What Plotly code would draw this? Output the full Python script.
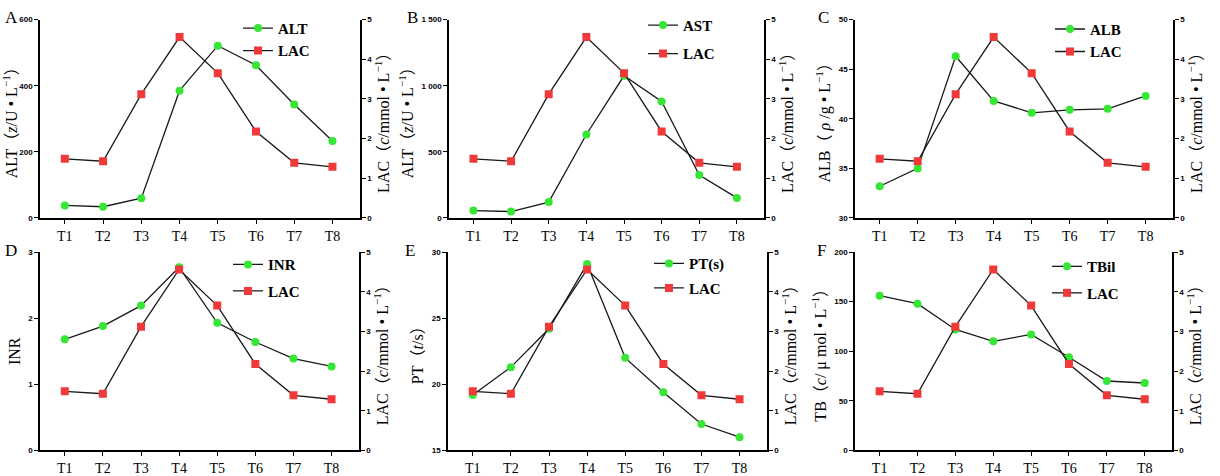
import plotly.graph_objects as go

# time points
times = ["T1", "T2", "T3", "T4", "T5", "T6", "T7", "T8"]

# lactate, same series in every panel (mmol/L)
lac = [1.49, 1.43, 3.12, 4.56, 3.65, 2.18, 1.39, 1.29]

alt = [38, 34, 60, 385, 521, 462, 343, 233]
ast = [56, 49, 120, 631, 1075, 881, 325, 152]
alb = [33.2, 35.0, 46.3, 41.8, 40.6, 40.9, 41.0, 42.3]
inr = [1.68, 1.88, 2.19, 2.77, 1.93, 1.64, 1.39, 1.27]
pt = [19.2, 21.3, 24.2, 29.1, 22.0, 19.4, 17.0, 16.0]
tbil = [156, 148, 122, 110, 117, 94, 70, 68]

panels = [
    ("A", "ALT", alt, "ALT（<i>z</i>/U • L<sup>−1</sup>）", [0, 600], [0, 200, 400, 600], ["0", "200", "400", "600"]),
    ("B", "AST", ast, "ALT（<i>z</i>/U • L<sup>−1</sup>）", [0, 1500], [0, 500, 1000, 1500], ["0", "500", "1 000", "1 500"]),
    ("C", "ALB", alb, "ALB（ <i>ρ</i> /g • L<sup>−1</sup>）", [30, 50], [30, 35, 40, 45, 50], ["30", "35", "40", "45", "50"]),
    ("D", "INR", inr, "INR", [0, 3], [0, 1, 2, 3], ["0", "1", "2", "3"]),
    ("E", "PT(s)", pt, "PT（<i>t</i>/s）", [15, 30], [15, 20, 25, 30], ["15", "20", "25", "30"]),
    ("F", "TBil", tbil, "TB（<i>c</i>/ μ mol • L<sup>−1</sup>）", [0, 200], [0, 50, 100, 150, 200], ["0", "50", "100", "150", "200"]),
]

W, H = 1220, 476
xdoms = [(40, 360), (449, 764), (855, 1173), (40, 359), (448, 767), (855, 1172)]
ydoms = [(16, 220), (16, 220), (16, 220), (255, 459), (255, 459), (255, 459)]
leg_dx = [198, 194, 195, 188, 201, 192]
leg_dy = [-8, -11, -7, -4, -5, -2]
leg_gap = [0, 6, 0, 4, 2, 4]
letter_dx = [37, 44, 39, 37, 45, 40]

SERIF = "Liberation Serif, Noto Sans CJK SC"
green = "#35e635"
red = "#f03a3a"

fig = go.Figure()
layout = {}
annotations = []

for i, (letter, name, vals, ytitle, yrange, yticks, ytext) in enumerate(panels):
    xa = "x" if i == 0 else f"x{i + 1}"
    yl = f"y{2 * i + 1}" if i > 0 else "y"
    yr = f"y{2 * i + 2}"
    leg = "legend" if i == 0 else f"legend{i + 1}"

    fig.add_trace(go.Scatter(
        x=times, y=vals, name=name, mode="lines+markers",
        line=dict(color="#1a1a1a", width=1.3),
        marker=dict(symbol="circle", size=8, color=green),
        xaxis=xa, yaxis=yl, legend=leg, legendgroup=f"g{i}a",
    ))
    fig.add_trace(go.Scatter(
        x=times, y=lac, name="LAC", mode="lines+markers",
        line=dict(color="#1a1a1a", width=1.3),
        marker=dict(symbol="square", size=8, color=red),
        xaxis=xa, yaxis=yr, legend=leg, legendgroup=f"g{i}b",
    ))

    x0, x1 = xdoms[i]
    y0, y1 = ydoms[i]
    xd = [x0 / W, x1 / W]
    yd = [1 - y1 / H, 1 - y0 / H]

    layout["xaxis" if i == 0 else f"xaxis{i + 1}"] = dict(
        domain=xd, anchor=yl, type="category", range=[-0.65, 7.72],
        showline=True, linecolor="black", linewidth=1.5,
        ticks="outside", ticklen=4, tickwidth=1.2, tickcolor="black",
        tickfont=dict(family=SERIF, size=14, color="black"),
        showgrid=False, zeroline=False,
    )
    layout["yaxis" if i == 0 else f"yaxis{2 * i + 1}"] = dict(
        domain=yd, anchor=xa, range=yrange,
        tickvals=yticks, ticktext=ytext,
        showline=True, linecolor="black", linewidth=1.5,
        ticks="outside", ticklen=4, tickwidth=1.2, tickcolor="black",
        tickfont=dict(family="Liberation Sans", size=8, color="black", weight="bold"),
        title=dict(text=ytitle, font=dict(family=SERIF, size=16, color="black"), standoff=4),
        showgrid=False, zeroline=False,
    )
    layout[f"yaxis{2 * i + 2}"] = dict(
        anchor=xa, overlaying=yl, side="right", range=[0, 5],
        tickvals=[0, 1, 2, 3, 4, 5],
        showline=True, linecolor="black", linewidth=1.5,
        ticks="outside", ticklen=4, tickwidth=1.2, tickcolor="black",
        tickfont=dict(family="Liberation Sans", size=8, color="black", weight="bold"),
        title=dict(text="LAC（<i>c</i>/mmol • L<sup>−1</sup>）",
                   font=dict(family=SERIF, size=16, color="black"), standoff=6),
        showgrid=False, zeroline=False,
    )
    layout[leg] = dict(
        x=(x0 + leg_dx[i]) / W, y=1 - (y0 + leg_dy[i]) / H, xanchor="left", yanchor="top",
        bgcolor="rgba(0,0,0,0)", tracegroupgap=leg_gap[i],
        font=dict(family="Liberation Serif", size=15, color="black", weight="bold"),
        itemwidth=30,
    )
    annotations.append(dict(
        text=letter, x=(x0 - letter_dx[i]) / W, y=1 - (y0 - 2) / H, xref="paper", yref="paper",
        xanchor="left", yanchor="middle", showarrow=False,
        font=dict(family=SERIF, size=17, color="black"),
    ))

fig.update_layout(
    width=W, height=H,
    margin=dict(l=0, r=0, t=0, b=0),
    paper_bgcolor="white", plot_bgcolor="white",
    annotations=annotations,
    **layout,
)

fig.write_html("out.html", config={"displayModeBar": False},
               post_script="document.body.style.margin='0';")
